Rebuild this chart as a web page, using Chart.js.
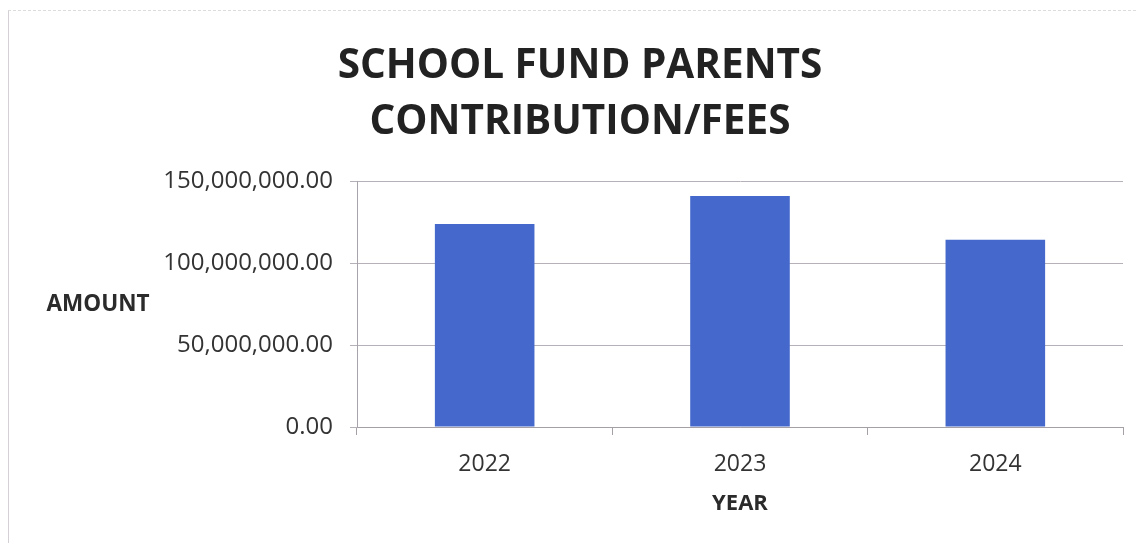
<!DOCTYPE html>
<html>
<head>
<meta charset="utf-8">
<script src="https://cdn.jsdelivr.net/npm/chart.js@4.4.1/dist/chart.umd.min.js"></script>
<style>
  html, body { margin: 0; padding: 0; background: #ffffff; }
  #wrap { position: relative; width: 1140px; height: 543px; }
  #frame { position: absolute; left: 8px; top: 10px; right: 4px; bottom: 0;
           border-left: 1px solid #d4d0d6; border-top: 1px dashed #dcdcdc; }
  canvas { position: absolute; left: 0; top: 0; }
</style>
</head>
<body>
<div id="wrap">
  <div id="frame"></div>
  <canvas id="chart" width="1140" height="543"></canvas>
</div>
<script>
// School fund: parents' contribution / fees per year
const years = ['2022', '2023', '2024'];
const amounts = [124000000, 141100000, 114300000];
const yTicks = [0, 50000000, 100000000, 150000000];
const titleLines = ['SCHOOL FUND PARENTS', 'CONTRIBUTION/FEES'];
const yAxisTitle = 'AMOUNT';
const xAxisTitle = 'YEAR';

const fmt = new Intl.NumberFormat('en-US', { minimumFractionDigits: 2, maximumFractionDigits: 2 });

// Horizontal "AMOUNT" label beside the value axis
const sideLabel = {
  id: 'sideLabel',
  afterDraw(chart) {
    const { ctx, chartArea } = chart;
    ctx.save();
    ctx.font = 'bold 22.5px "Open Sans"';
    ctx.fillStyle = '#2b2b2b';
    ctx.textAlign = 'center';
    ctx.textBaseline = 'middle';
    ctx.fillText(yAxisTitle, 98, (chartArea.top + chartArea.bottom) / 2);
    ctx.restore();
  }
};

new Chart(document.getElementById('chart'), {
  type: 'bar',
  data: {
    labels: years,
    datasets: [{
      data: amounts,
      backgroundColor: '#4468cb',
      borderWidth: 0,
      barPercentage: 0.39,
      categoryPercentage: 1
    }]
  },
  options: {
    responsive: false,
    animation: false,
    layout: { padding: { left: 37, right: 17, top: 0, bottom: 26 } },
    plugins: {
      legend: { display: false },
      tooltip: { enabled: false },
      title: {
        display: true,
        text: titleLines,
        color: '#222222',
        font: { family: '"Open Sans"', size: 40.5, weight: 'bold', lineHeight: 1.387 },
        padding: { top: 38, bottom: 31 }
      }
    },
    scales: {
      x: {
        offset: true,
        afterFit(scale) { scale.height = 90; },
        border: { display: true, color: '#a4a0a6', width: 1 },
        grid: { display: true, drawOnChartArea: false, drawTicks: true, tickLength: 8, color: '#a4a0a6', offset: true },
        ticks: { color: '#333333', padding: 16, font: { family: '"Open Sans"', size: 23 } },
        title: {
          display: true, text: xAxisTitle, color: '#2b2b2b',
          font: { family: '"Open Sans"', size: 22, weight: 'bold' },
          padding: { top: 0, bottom: 0 }
        }
      },
      y: {
        min: 0,
        max: 150000000,
        afterFit(scale) { scale.width = 320; },
        afterBuildTicks(scale) { scale.ticks = yTicks.map(v => ({ value: v })); },
        border: { display: true, color: '#a9a4ab', width: 1 },
        grid: { color: '#b6b1b8', lineWidth: 1, tickLength: 7 },
        ticks: {
          color: '#333333', padding: 17,
          font: { family: '"Open Sans"', size: 24 },
          callback: v => fmt.format(v)
        }
      }
    }
  },
  plugins: [sideLabel]
});
</script>
</body>
</html>
